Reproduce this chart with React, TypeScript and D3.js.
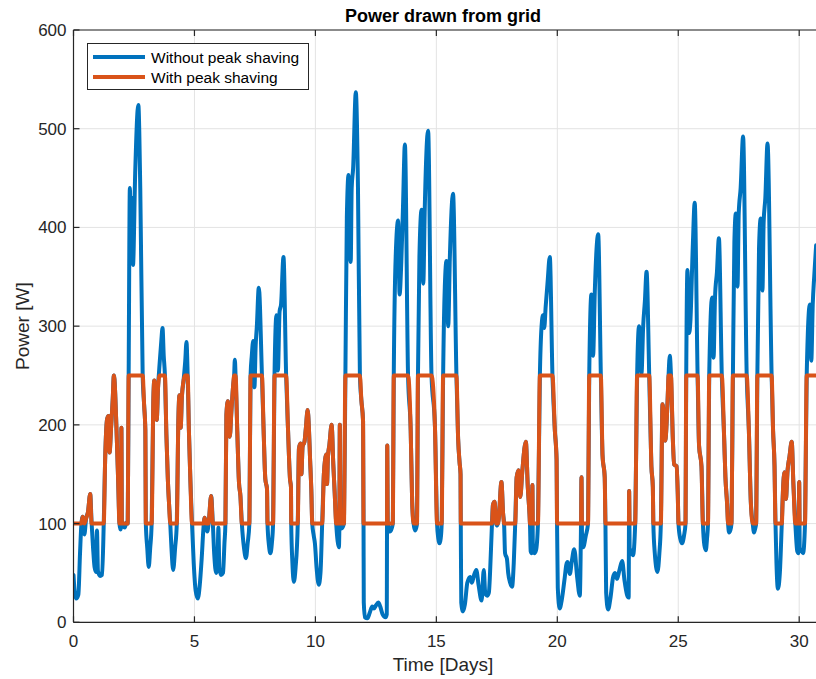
import React from "react";
import * as d3 from "d3";

// [time in days, power in W]
const withoutPeakShaving: [number, number][] = [
  [0, 48], [0.05, 30], [0.11, 24], [0.2, 28], [0.27, 70], [0.32, 97], [0.38, 107], [0.45, 89], [0.52, 105], [0.6, 112], [0.69, 130], [0.75, 100], [0.81, 75], [0.87, 56], [0.93, 51], [0.97, 93], [1.01, 52], [1.1, 47], [1.18, 48], [1.25, 100],
  [1.31, 167], [1.39, 206], [1.45, 209], [1.49, 172], [1.56, 200], [1.62, 225], [1.67, 250], [1.78, 194], [1.85, 140], [1.9, 100], [1.94, 94], [1.97, 100], [1.98, 197], [2.0, 100], [2.05, 97], [2.12, 96], [2.19, 101], [2.24, 100],
  [2.28, 250], [2.33, 440], [2.38, 365], [2.42, 430], [2.46, 362], [2.55, 455], [2.68, 524], [2.76, 440], [2.86, 250], [2.92, 220], [2.97, 195], [2.99, 100], [3.05, 75], [3.11, 56], [3.17, 75], [3.23, 100],
  [3.3, 225], [3.34, 245], [3.4, 210], [3.44, 205], [3.5, 240], [3.56, 262], [3.63, 285], [3.68, 298], [3.73, 270], [3.78, 250], [3.84, 190], [3.9, 145], [3.95, 120], [4.0, 100], [4.05, 75], [4.12, 53], [4.2, 75], [4.27, 100],
  [4.33, 200], [4.38, 230], [4.43, 197], [4.48, 228], [4.55, 245], [4.62, 265], [4.67, 284], [4.72, 250], [4.77, 195], [4.83, 145], [4.9, 100], [4.97, 60], [5.05, 32], [5.14, 24], [5.22, 38], [5.3, 65], [5.38, 98], [5.42, 106], [5.48, 96], [5.53, 92], [5.6, 104], [5.69, 128], [5.76, 100], [5.82, 68], [5.9, 50], [5.95, 55], [5.99, 96], [6.03, 55], [6.1, 48], [6.18, 50], [6.24, 80], [6.28, 100],
  [6.32, 210], [6.38, 224], [6.46, 188], [6.53, 215], [6.6, 240], [6.64, 250], [6.67, 266], [6.7, 250], [6.77, 194], [6.84, 142], [6.9, 128], [6.96, 100], [7.05, 75], [7.13, 65], [7.2, 80], [7.27, 100],
  [7.32, 250], [7.37, 270], [7.43, 285], [7.48, 238], [7.53, 280], [7.58, 300], [7.66, 339], [7.79, 250], [7.86, 194], [7.93, 145], [8.0, 135], [8.02, 100], [8.08, 78], [8.14, 70], [8.2, 80], [8.25, 100],
  [8.31, 250], [8.39, 311], [8.45, 255], [8.52, 315], [8.58, 322], [8.68, 370], [8.79, 250], [8.87, 194], [8.95, 145], [8.99, 137], [9.0, 100], [9.05, 60], [9.11, 41], [9.18, 55], [9.27, 100],
  [9.32, 176], [9.38, 181], [9.42, 150], [9.47, 178], [9.55, 183], [9.6, 195], [9.68, 215], [9.73, 198], [9.78, 165], [9.83, 135], [9.87, 100], [9.93, 88], [9.98, 80], [10.05, 55], [10.14, 38], [10.21, 50], [10.28, 100],
  [10.35, 150], [10.4, 165], [10.44, 170], [10.48, 140], [10.52, 168], [10.58, 180], [10.67, 200], [10.74, 160], [10.8, 130], [10.86, 100], [10.92, 82], [10.97, 76], [10.99, 95], [11.01, 200], [11.03, 100], [11.08, 95], [11.18, 100],
  [11.24, 250], [11.3, 410], [11.37, 453], [11.42, 380], [11.46, 365], [11.5, 440], [11.56, 460], [11.67, 537], [11.76, 440], [11.84, 250], [11.9, 225], [11.97, 204], [11.99, 100], [12.0, 20], [12.05, 5], [12.15, 4], [12.25, 10], [12.35, 16], [12.42, 14], [12.5, 17], [12.6, 20], [12.68, 16], [12.78, 8], [12.9, 5], [12.95, 8], [12.97, 179], [12.99, 100], [13.03, 95], [13.08, 92], [13.15, 95], [13.2, 100],
  [13.24, 250], [13.32, 371], [13.42, 407], [13.48, 332], [13.55, 364], [13.62, 420], [13.7, 484], [13.83, 250], [13.94, 194], [14.0, 122], [14.06, 100], [14.12, 93], [14.16, 95], [14.2, 100],
  [14.24, 250], [14.3, 370], [14.39, 418], [14.46, 343], [14.52, 418], [14.66, 498], [14.8, 250], [14.94, 200], [15.03, 100], [15.08, 85], [15.13, 80], [15.18, 85], [15.22, 100],
  [15.28, 250], [15.35, 340], [15.42, 366], [15.49, 300], [15.56, 371], [15.69, 434], [15.83, 250], [15.9, 186], [15.96, 162], [16.0, 150], [16.01, 100], [16.03, 20], [16.1, 11], [16.18, 18], [16.28, 40], [16.4, 46], [16.47, 40], [16.55, 47], [16.65, 53], [16.75, 37], [16.87, 22], [16.96, 53], [17.02, 30], [17.1, 27], [17.17, 30], [17.22, 50], [17.3, 100],
  [17.34, 119], [17.41, 122], [17.47, 100], [17.52, 98], [17.58, 105], [17.69, 142], [17.76, 110], [17.8, 100], [17.84, 70], [17.92, 64], [17.97, 50], [18.05, 40], [18.13, 36], [18.2, 60], [18.26, 100],
  [18.32, 147], [18.4, 154], [18.47, 127], [18.55, 152], [18.7, 183], [18.78, 137], [18.85, 110], [18.87, 100], [18.9, 72], [18.94, 70], [18.97, 139], [18.99, 72], [19.05, 70], [19.12, 73], [19.2, 100],
  [19.28, 250], [19.35, 300], [19.41, 311], [19.46, 298], [19.52, 320], [19.6, 345], [19.69, 370], [19.8, 250], [19.9, 194], [19.97, 165], [19.99, 100], [20.02, 35], [20.1, 14], [20.18, 22], [20.31, 46], [20.37, 58], [20.42, 61], [20.52, 49], [20.6, 62], [20.7, 74], [20.82, 46], [20.93, 27], [20.98, 100], [21.0, 147], [21.02, 90], [21.07, 76], [21.18, 88], [21.27, 100],
  [21.32, 250], [21.41, 332], [21.48, 270], [21.55, 335], [21.69, 393], [21.8, 250], [21.87, 169], [21.96, 147], [21.99, 100], [22.02, 30], [22.1, 13], [22.2, 25], [22.3, 45], [22.38, 50], [22.47, 44], [22.56, 52], [22.68, 62], [22.78, 42], [22.88, 28], [22.95, 25], [22.97, 133], [22.99, 75], [23.05, 72], [23.13, 68], [23.22, 100],
  [23.3, 250], [23.38, 300], [23.48, 252], [23.55, 300], [23.62, 325], [23.69, 355], [23.8, 250], [23.89, 158], [23.95, 137], [23.97, 100], [24.03, 70], [24.14, 51], [24.22, 70], [24.28, 100],
  [24.35, 221], [24.4, 210], [24.46, 184], [24.56, 225], [24.6, 250], [24.65, 270], [24.7, 250], [24.77, 190], [24.83, 160], [24.93, 158], [24.98, 130], [25.01, 100], [25.08, 85], [25.16, 80], [25.24, 88], [25.3, 100],
  [25.33, 250], [25.38, 357], [25.45, 293], [25.5, 304], [25.6, 380], [25.68, 425], [25.8, 250], [25.86, 179], [25.96, 158], [26.02, 100], [26.08, 78], [26.14, 73], [26.19, 85], [26.23, 100],
  [26.28, 250], [26.4, 329], [26.46, 268], [26.52, 329], [26.6, 355], [26.68, 389], [26.8, 250], [26.9, 185], [26.95, 147], [27.02, 120], [27.06, 100], [27.1, 91], [27.15, 93], [27.2, 100],
  [27.26, 250], [27.32, 385], [27.38, 414], [27.45, 340], [27.5, 414], [27.58, 440], [27.68, 492], [27.83, 250], [27.92, 194], [28.0, 122], [28.08, 100], [28.13, 91], [28.18, 95], [28.22, 100],
  [28.27, 250], [28.34, 380], [28.41, 409], [28.48, 336], [28.53, 405], [28.6, 430], [28.69, 485], [28.86, 250], [28.92, 194], [28.98, 158], [29.02, 100], [29.06, 60], [29.12, 34], [29.2, 50], [29.28, 100],
  [29.33, 134], [29.39, 152], [29.45, 125], [29.52, 154], [29.6, 168], [29.69, 183], [29.76, 140], [29.84, 100], [29.92, 72], [29.97, 70], [30.0, 142], [30.02, 75], [30.08, 73], [30.16, 70], [30.24, 100],
  [30.31, 250], [30.44, 322], [30.5, 265], [30.56, 322], [30.62, 350], [30.7, 382],
];

const withPeakShaving: [number, number][] = [
  [0, 100], [0.32, 100], [0.38, 107], [0.45, 100], [0.52, 105], [0.6, 112], [0.69, 130], [0.75, 100], [1.25, 100],
  [1.31, 167], [1.39, 206], [1.45, 209], [1.49, 172], [1.56, 200], [1.62, 225], [1.67, 250], [1.78, 194], [1.85, 140], [1.9, 100], [1.97, 100], [1.98, 197], [2.0, 100], [2.24, 100],
  [2.28, 250], [2.86, 250], [2.92, 220], [2.97, 195], [2.99, 100], [3.23, 100],
  [3.3, 225], [3.34, 245], [3.4, 210], [3.44, 205], [3.5, 240], [3.56, 250], [3.78, 250], [3.84, 190], [3.9, 145], [3.95, 120], [4.0, 100], [4.27, 100],
  [4.33, 200], [4.38, 230], [4.43, 197], [4.48, 228], [4.55, 245], [4.6, 250], [4.72, 250], [4.77, 195], [4.83, 145], [4.9, 100], [5.38, 100], [5.42, 106], [5.48, 100], [5.58, 100], [5.6, 104], [5.69, 128], [5.76, 100], [6.28, 100],
  [6.32, 210], [6.38, 224], [6.46, 188], [6.53, 215], [6.6, 240], [6.64, 250], [6.7, 250], [6.77, 194], [6.84, 142], [6.9, 128], [6.96, 100], [7.27, 100],
  [7.32, 250], [7.79, 250], [7.86, 194], [7.93, 145], [8.0, 135], [8.02, 100], [8.25, 100],
  [8.31, 250], [8.79, 250], [8.87, 194], [8.95, 145], [8.99, 137], [9.0, 100], [9.27, 100],
  [9.32, 176], [9.38, 181], [9.42, 150], [9.47, 178], [9.55, 183], [9.6, 195], [9.68, 215], [9.73, 198], [9.78, 165], [9.83, 135], [9.87, 100], [10.28, 100],
  [10.35, 150], [10.4, 165], [10.44, 170], [10.48, 140], [10.52, 168], [10.58, 180], [10.67, 200], [10.74, 160], [10.8, 130], [10.86, 100], [10.99, 100], [11.01, 200], [11.03, 100], [11.18, 100],
  [11.24, 250], [11.84, 250], [11.9, 225], [11.97, 204], [11.99, 100], [12.96, 100], [12.97, 179], [12.99, 100], [13.2, 100],
  [13.24, 250], [13.83, 250], [13.94, 194], [14.0, 122], [14.06, 100], [14.2, 100],
  [14.24, 250], [14.8, 250], [14.94, 200], [15.03, 100], [15.22, 100],
  [15.28, 250], [15.83, 250], [15.9, 186], [15.96, 162], [16.0, 150], [16.01, 100], [17.3, 100],
  [17.34, 119], [17.41, 122], [17.47, 100], [17.55, 100], [17.58, 105], [17.69, 142], [17.76, 110], [17.8, 100], [18.26, 100],
  [18.32, 147], [18.4, 154], [18.47, 127], [18.55, 152], [18.7, 183], [18.78, 137], [18.85, 110], [18.87, 100], [18.95, 100], [18.97, 139], [18.99, 100], [19.2, 100],
  [19.28, 250], [19.8, 250], [19.9, 194], [19.97, 165], [19.99, 100], [20.98, 100], [21.0, 147], [21.02, 100], [21.27, 100],
  [21.32, 250], [21.8, 250], [21.87, 169], [21.96, 147], [21.99, 100], [22.96, 100], [22.97, 133], [22.99, 100], [23.22, 100],
  [23.3, 250], [23.8, 250], [23.89, 158], [23.95, 137], [23.97, 100], [24.28, 100],
  [24.35, 221], [24.4, 210], [24.46, 184], [24.56, 225], [24.6, 250], [24.7, 250], [24.77, 190], [24.83, 160], [24.93, 158], [24.98, 130], [25.01, 100], [25.3, 100],
  [25.33, 250], [25.8, 250], [25.86, 179], [25.96, 158], [26.02, 100], [26.23, 100],
  [26.28, 250], [26.8, 250], [26.9, 185], [26.95, 147], [27.02, 120], [27.06, 100], [27.2, 100],
  [27.26, 250], [27.83, 250], [27.92, 194], [28.0, 122], [28.08, 100], [28.22, 100],
  [28.27, 250], [28.86, 250], [28.92, 194], [28.98, 158], [29.02, 100], [29.28, 100],
  [29.33, 134], [29.39, 152], [29.45, 125], [29.52, 154], [29.6, 168], [29.69, 183], [29.76, 140], [29.84, 100], [29.98, 100], [30.0, 142], [30.02, 100], [30.24, 100],
  [30.31, 250], [30.7, 250],
];

const xTicks = [0, 5, 10, 15, 20, 25, 30];
const yTicks = [0, 100, 200, 300, 400, 500, 600];
const seriesNames = ["Without peak shaving", "With peak shaving"];
const seriesColors = ["#0072BD", "#D95319"];
const titleText = "Power drawn from grid";
const xLabel = "Time [Days]";
const yLabel = "Power [W]";

const W = 816;
const H = 679;
const left = 73.5;
const top = 30;
const bottom = 622.3;
const right = left + 31 * 24.19;
const FONT = "'Liberation Sans', Arial, Helvetica, sans-serif";

export default function App() {
  const x = d3.scaleLinear().domain([0, 31]).range([left, right]);
  const y = d3.scaleLinear().domain([0, 600]).range([bottom, top]);
  const line = d3
    .line<[number, number]>()
    .x((d) => x(d[0]))
    .y((d) => y(d[1]))
    .curve(d3.curveMonotoneX);
  const axisColor = "#262626";
  const gridColor = "#e3e3e3";
  const titleCx = 443;

  return (
    <svg
      width={W}
      height={H}
      style={{ position: "absolute", left: 0, top: 0, background: "#fff" }}
      fontFamily={FONT}
    >
      <rect x={0} y={0} width={W} height={H} fill="#fff" />
      <defs>
        <clipPath id="plotClip">
          <rect x={left} y={top} width={right - left} height={bottom - top} />
        </clipPath>
      </defs>
      {xTicks.map((t) => (
        <line key={"gx" + t} x1={x(t)} x2={x(t)} y1={top} y2={bottom} stroke={gridColor} strokeWidth={1} />
      ))}
      {yTicks.map((t) => (
        <line key={"gy" + t} x1={left} x2={right} y1={y(t)} y2={y(t)} stroke={gridColor} strokeWidth={1} />
      ))}
      <g clipPath="url(#plotClip)" fill="none" strokeWidth={4} strokeLinejoin="round" strokeLinecap="round">
        <path d={line(withoutPeakShaving) || ""} stroke={seriesColors[0]} />
        <path d={line(withPeakShaving) || ""} stroke={seriesColors[1]} />
      </g>
      <line x1={left} x2={left} y1={top} y2={bottom} stroke={axisColor} strokeWidth={1.2} />
      <line x1={left} x2={right} y1={bottom} y2={bottom} stroke={axisColor} strokeWidth={1.2} />
      <line x1={left} x2={right} y1={top} y2={top} stroke={axisColor} strokeWidth={1.2} />
      <line x1={right} x2={right} y1={top} y2={bottom} stroke={axisColor} strokeWidth={1.2} />
      {xTicks.map((t) => (
        <g key={"tx" + t}>
          <line x1={x(t)} x2={x(t)} y1={bottom} y2={bottom - 6} stroke={axisColor} strokeWidth={1.2} />
          <line x1={x(t)} x2={x(t)} y1={top} y2={top + 6} stroke={axisColor} strokeWidth={1.2} />
          <text x={x(t)} y={bottom + 25} textAnchor="middle" fontSize={17} fill={axisColor}>
            {t}
          </text>
        </g>
      ))}
      {yTicks.map((t) => (
        <g key={"ty" + t}>
          <line x1={left} x2={left + 6} y1={y(t)} y2={y(t)} stroke={axisColor} strokeWidth={1.2} />
          <text x={left - 7} y={y(t) + 6} textAnchor="end" fontSize={17} fill={axisColor}>
            {t}
          </text>
        </g>
      ))}
      <text x={titleCx} y={22} textAnchor="middle" fontSize={18} fontWeight="bold" fill="#000">
        {titleText}
      </text>
      <text x={titleCx} y={671} textAnchor="middle" fontSize={19} fill={axisColor}>
        {xLabel}
      </text>
      <text
        transform={`translate(29, ${(top + bottom) / 2}) rotate(-90)`}
        textAnchor="middle"
        fontSize={19}
        fill={axisColor}
      >
        {yLabel}
      </text>
      <g>
        <rect x={87.5} y={43.5} width={221} height={46} fill="#fff" stroke={axisColor} strokeWidth={1} />
        {seriesNames.map((name, i) => (
          <g key={name}>
            <line x1={93} x2={145} y1={57 + i * 20} y2={57 + i * 20} stroke={seriesColors[i]} strokeWidth={4} />
            <text x={151} y={57 + i * 20 + 5.5} fontSize={15.5} fill="#000">
              {name}
            </text>
          </g>
        ))}
      </g>
    </svg>
  );
}
